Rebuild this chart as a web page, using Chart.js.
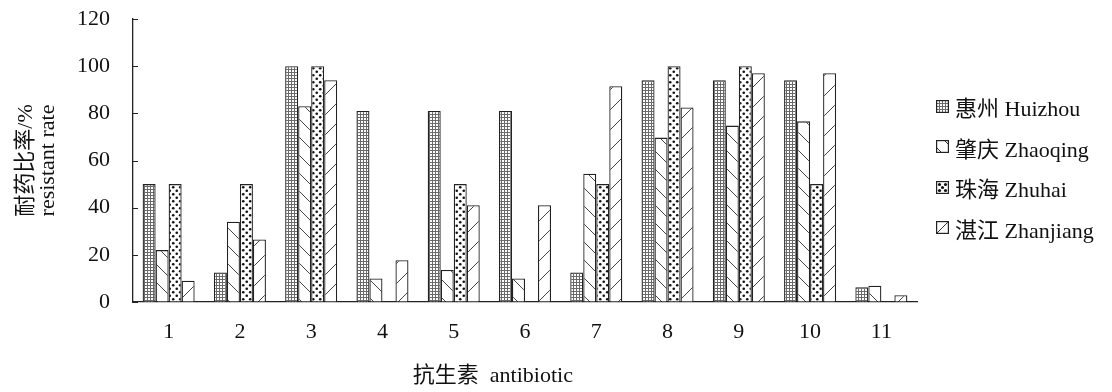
<!DOCTYPE html>
<html>
<head>
<meta charset="utf-8">
<script src="https://cdn.jsdelivr.net/npm/chart.js@4/dist/chart.umd.min.js"></script>
<style>
  html,body{margin:0;padding:0;background:#fff;}
  #wrap{position:relative;width:1112px;height:392px;}
  #legend{position:absolute;left:936px;top:86px;font-family:'Liberation Serif','Noto Sans CJK SC',serif;font-size:22px;color:#111;}
  .item{display:flex;align-items:center;height:40.5px;white-space:nowrap;}
  .item canvas{width:13px;height:13px;margin-right:6px;}
</style>
</head>
<body>
<div id="wrap">
  <canvas id="c" width="1112" height="392"></canvas>
  <div id="legend"></div>
</div>
<script>
const categories = ['1','2','3','4','5','6','7','8','9','10','11'];
const seriesNames = ['惠州 Huizhou','肇庆 Zhaoqing','珠海 Zhuhai','湛江 Zhanjiang'];
const huizhou   = [50, 12.5, 100, 81, 81, 81, 12.5, 94, 94, 94, 6.3];
const zhaoqing  = [22, 34, 83, 10, 13.6, 10, 54.4, 69.7, 74.8, 76.6, 6.9];
const zhuhai    = [50, 50, 100, 0, 50, 0, 50, 100, 100, 50, 0];
const zhanjiang = [9, 26.5, 94, 17.7, 41, 41, 91.5, 82.5, 97, 97, 2.9];
const yTicks = [0, 20, 40, 60, 80, 100, 120];
const yTitle = ['耐药比率/%', 'resistant rate'];
const xTitle = '抗生素  antibiotic';

const FONT = "'Liberation Serif','Noto Sans CJK SC',serif";
const FS = 22;

function makePattern(kind) {
  const c = document.createElement('canvas');
  const ctx = c.getContext('2d');
  if (kind === 'grid') {
    c.width = 3; c.height = 3;
    ctx.fillStyle = '#fff'; ctx.fillRect(0,0,3,3);
    ctx.fillStyle = '#6a6a6a';
    ctx.fillRect(0,0,3,1); ctx.fillRect(0,0,1,3);
  } else if (kind === 'back') {
    const s = 18; c.width = s; c.height = s;
    ctx.fillStyle = '#fff'; ctx.fillRect(0,0,s,s);
    ctx.strokeStyle = '#444'; ctx.lineWidth = 1;
    ctx.beginPath();
    ctx.moveTo(-2,-2); ctx.lineTo(s+2,s+2);
    ctx.stroke();
  } else if (kind === 'dots') {
    const s = 7; c.width = s; c.height = s;
    ctx.fillStyle = '#fff'; ctx.fillRect(0,0,s,s);
    ctx.fillStyle = '#111';
    ctx.beginPath(); ctx.arc(1.75,1.75,1.3,0,Math.PI*2); ctx.fill();
    ctx.beginPath(); ctx.arc(5.25,5.25,1.3,0,Math.PI*2); ctx.fill();
  } else {
    const s = 20; c.width = s; c.height = s;
    ctx.fillStyle = '#fff'; ctx.fillRect(0,0,s,s);
    ctx.strokeStyle = '#444'; ctx.lineWidth = 1;
    ctx.beginPath();
    ctx.moveTo(-2,s+2); ctx.lineTo(s+2,-2);
    ctx.stroke();
  }
  return c;
}
const kinds = ['grid','back','dots','fwd'];
const mainCtx = document.getElementById('c').getContext('2d');
const patterns = kinds.map(k => mainCtx.createPattern(makePattern(k), 'repeat'));
const seriesData = [huizhou, zhaoqing, zhuhai, zhanjiang];

// HTML legend
const legendEl = document.getElementById('legend');
seriesNames.forEach((name, i) => {
  const item = document.createElement('div'); item.className = 'item';
  const sw = document.createElement('canvas'); sw.width = 13; sw.height = 13;
  const sctx = sw.getContext('2d');
  sctx.fillStyle = '#fff'; sctx.fillRect(0,0,13,13);
  sctx.strokeStyle = '#333'; sctx.lineWidth = 1;
  if (kinds[i] === 'grid') {
    sctx.fillStyle = sctx.createPattern(makePattern('grid'), 'repeat');
    sctx.fillRect(0,0,13,13);
  } else if (kinds[i] === 'dots') {
    sctx.fillStyle = '#111';
    [[3.5,3.5],[9.5,3.5],[6.5,6.5],[3.5,9.5],[9.5,9.5]].forEach(p => {
      sctx.beginPath(); sctx.arc(p[0],p[1],1.6,0,Math.PI*2); sctx.fill();
    });
  } else if (kinds[i] === 'back') {
    sctx.beginPath(); sctx.moveTo(8,0); sctx.lineTo(13,5); sctx.stroke();
    sctx.beginPath(); sctx.moveTo(0,7); sctx.lineTo(6,13); sctx.stroke();
  } else {
    sctx.beginPath(); sctx.moveTo(0,13); sctx.lineTo(13,0); sctx.stroke();
  }
  sctx.strokeStyle = '#222'; sctx.lineWidth = 1.2;
  sctx.strokeRect(0.6,0.6,11.8,11.8);
  const t = document.createElement('span'); t.textContent = name;
  item.appendChild(sw); item.appendChild(t);
  legendEl.appendChild(item);
});

const innerTicks = {
  id: 'innerTicks',
  afterDraw(chart) {
    const ctx = chart.ctx, y = chart.scales.y, area = chart.chartArea;
    ctx.save();
    ctx.strokeStyle = '#222'; ctx.lineWidth = 1;
    y.ticks.forEach((t, i) => {
      const py = Math.round(y.getPixelForTick(i)) + 0.5;
      ctx.beginPath(); ctx.moveTo(area.left, py); ctx.lineTo(area.left + 5, py); ctx.stroke();
    });
    // x axis title
    ctx.fillStyle = '#111';
    ctx.font = FS + 'px ' + FONT;
    ctx.textAlign = 'center'; ctx.textBaseline = 'middle';
    ctx.fillText(xTitle, area.left + (area.right - area.left) * 0.459, 376);
    ctx.restore();
  }
};

new Chart(mainCtx, {
  type: 'bar',
  data: {
    labels: categories,
    datasets: seriesNames.map((n, i) => ({
      label: n,
      data: seriesData[i],
      backgroundColor: patterns[i],
      borderColor: '#222',
      borderWidth: 1.3,
      borderSkipped: 'start',
      categoryPercentage: 0.73,
      barPercentage: 1.0
    }))
  },
  options: {
    responsive: false,
    animation: false,
    devicePixelRatio: 1,
    layout: { padding: { left: 0, right: 195, top: 19, bottom: 0 } },
    plugins: { legend: { display: false }, tooltip: { enabled: false } },
    scales: {
      x: {
        grid: { display: false, drawTicks: false },
        border: { display: true, color: '#222', width: 1.3 },
        ticks: { color: '#111', font: { family: FONT, size: FS }, padding: 17 },
        afterFit(s) { s.height = 90; s.paddingLeft = 0; s.paddingRight = 0; }
      },
      y: {
        min: 0, max: 120,
        afterBuildTicks(s) { s.ticks = yTicks.map(v => ({ value: v })); },
        grid: { drawOnChartArea: false, drawTicks: false },
        border: { display: true, color: '#222', width: 1.3 },
        ticks: { color: '#111', font: { family: FONT, size: FS }, padding: 23 },
        title: {
          display: true, text: yTitle, color: '#111',
          font: { family: FONT, size: FS, lineHeight: 1.0 },
          padding: { top: 15, bottom: 0 }
        },
        afterFit(s) { s.width = 133; s.paddingTop = 0; s.paddingBottom = 0; }
      }
    }
  },
  plugins: [innerTicks]
});
</script>
</body>
</html>
